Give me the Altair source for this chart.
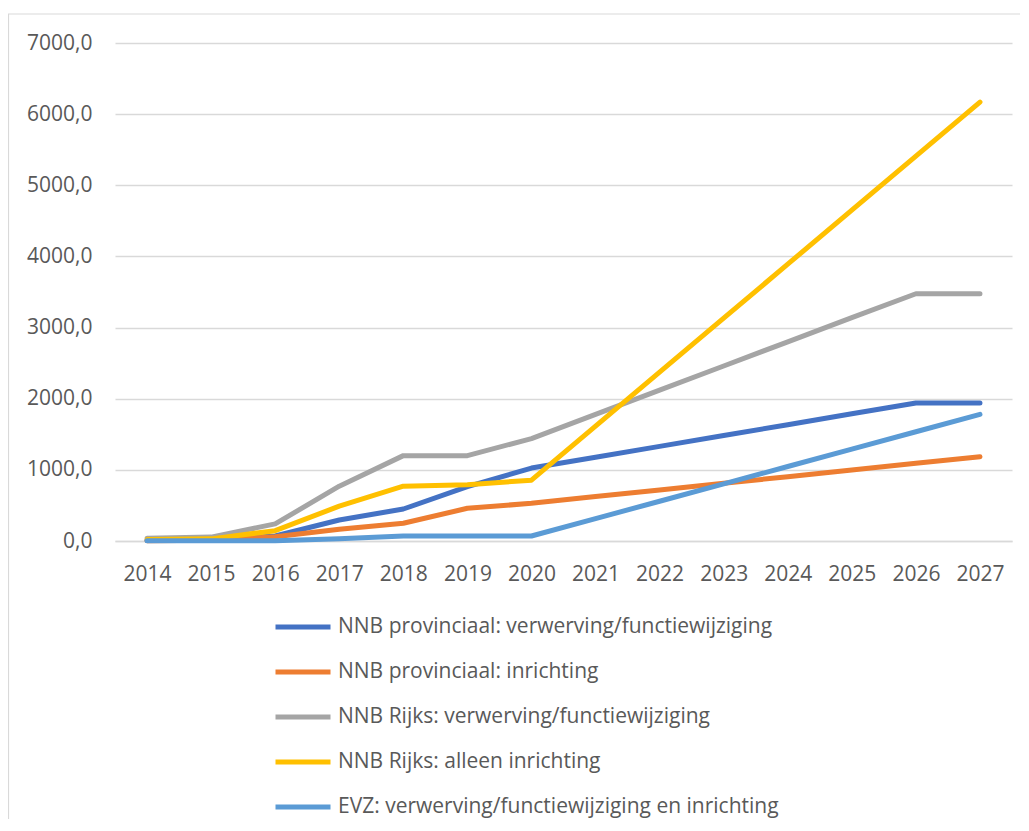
import altair as alt
import pandas as pd

years = [str(y) for y in range(2014, 2028)]
series_names = [
    "NNB provinciaal: verwerving/functiewijziging",
    "NNB provinciaal: inrichting",
    "NNB Rijks: verwerving/functiewijziging",
    "NNB Rijks: alleen inrichting",
    "EVZ: verwerving/functiewijziging en inrichting",
]
colors = ["#4472C4", "#ED7D31", "#A5A5A5", "#FFC000", "#5B9BD5"]

nnb_prov_verw = [10, 15, 70, 295, 450, 765, 1025, 1178, 1330, 1483, 1635, 1788, 1940, 1940]
nnb_prov_inr = [5, 10, 60, 165, 250, 460, 530, 624, 717, 811, 904, 998, 1092, 1185]
nnb_rijks_verw = [40, 55, 240, 770, 1200, 1200, 1440, 1780, 2120, 2460, 2800, 3140, 3475, 3475]
nnb_rijks_inr = [20, 30, 145, 490, 770, 790, 855, 1614, 2373, 3132, 3891, 4650, 5410, 6170]
evz = [5, 5, 5, 30, 70, 70, 70, 314, 559, 803, 1047, 1291, 1536, 1780]

all_values = [nnb_prov_verw, nnb_prov_inr, nnb_rijks_verw, nnb_rijks_inr, evz]
rows = []
for name, vals in zip(series_names, all_values):
    for y, v in zip(years, vals):
        rows.append({"jaar": y, "serie": name, "waarde": v})
df = pd.DataFrame(rows)

FONT = "Open Sans"
TXT = "#595959"

color = alt.Color(
    "serie:N",
    scale=alt.Scale(domain=series_names, range=colors),
    legend=alt.Legend(
        title=None,
        orient="none",
        legendX=158,
        legendY=554,
        direction="vertical",
        symbolType="stroke",
        symbolSize=3025,
        symbolStrokeWidth=5,
        labelFontSize=21,
        labelFont=FONT,
        labelColor=TXT,
        labelOffset=5,
        rowPadding=5,
        labelLimit=800,
    ),
)

x = alt.X(
    "jaar:O",
    sort=years,
    scale=alt.Scale(type="point", padding=0.5),
    axis=alt.Axis(
        title=None,
        labelAngle=0,
        labelFontSize=21,
        labelFont=FONT,
        labelColor=TXT,
        labelPadding=22,
        domain=True,
        domainColor="#d9d9d9",
        domainWidth=1.5,
        ticks=False,
        grid=False,
    ),
)
y = alt.Y(
    "waarde:Q",
    scale=alt.Scale(domain=[0, 7000], nice=False),
    axis=alt.Axis(
        title=None,
        values=[0, 1000, 2000, 3000, 4000, 5000, 6000, 7000],
        labelExpr="replace(format(datum.value, '.1f'), '.', ',')",
        labelFontSize=21,
        labelFont=FONT,
        labelColor=TXT,
        labelPadding=23,
        domain=False,
        ticks=False,
        grid=True,
        gridColor="#d9d9d9",
        gridWidth=1.5,
    ),
)

border = alt.Chart(pd.DataFrame({"k": [0]})).mark_rect(
    fill=None, stroke="#d9d9d9", strokeWidth=1.2, clip=False
).encode(
    x=alt.value(-106.5), x2=alt.value(930),
    y=alt.value(-29), y2=alt.value(900),
)

layers = [border]
for name in series_names:
    layers.append(
        alt.Chart(df)
        .transform_filter(alt.datum.serie == name)
        .mark_line(strokeWidth=5, strokeCap="round", strokeJoin="round")
        .encode(x=x, y=y, color=color)
    )

chart = alt.layer(*layers).properties(
    width=897,
    height=498,
    autosize=alt.AutoSizeParams(type="none"),
    padding={"left": 107, "top": 35, "right": 8, "bottom": 278},
).configure_view(stroke=None)

chart.save("out.html", embed_options={"renderer": "svg", "actions": False})
